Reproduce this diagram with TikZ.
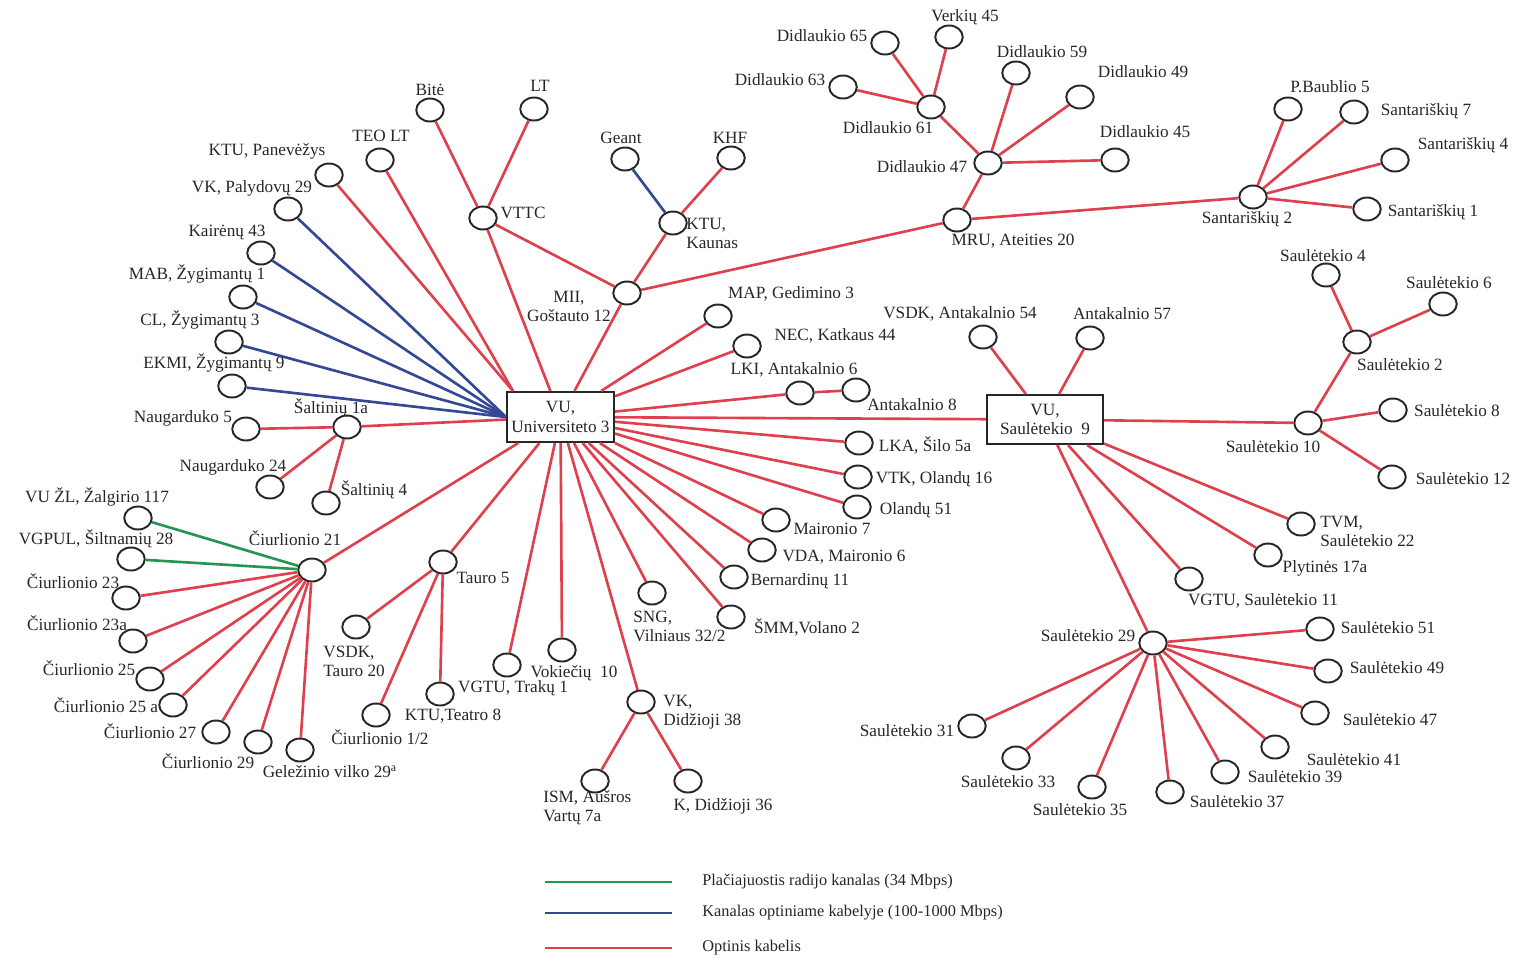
\documentclass[tikz,border=0pt]{standalone}
\usepackage{fontspec}
\setmainfont{Liberation Serif}
\usetikzlibrary{shapes.geometric}
\definecolor{cred}{RGB}{222,64,78}
\definecolor{cblue}{RGB}{52,72,150}
\definecolor{cgreen}{RGB}{36,150,84}
\newcommand\st[5][]{\node[site] (#2) at (#3) {}; \node[lbl,#1] (#2-l) at (#4) {#5};}
\begin{document}
\begin{tikzpicture}[x=0.02cm,y=-0.02cm,
  site/.style={ellipse,draw=black!85,line width=1.1pt,fill=white,minimum width=0.55cm,minimum height=0.46cm,inner sep=0pt},
  hub/.style={rectangle,draw=black!85,line width=1.2pt,fill=white,minimum width=2.14cm,minimum height=1cm,align=center,inner sep=1pt,font=\fontsize{9.8}{11}\selectfont,text=black!85},
  lbl/.style={font=\fontsize{9.8}{10.8}\selectfont,inner sep=0pt,text=black!85,align=center},
  lft/.style={anchor=west,align=left},
  fib/.style={cred,line width=1.5pt},
  opt/.style={cblue,line width=1.5pt},
  rad/.style={cgreen,line width=1.5pt}]
\useasboundingbox (0,0) rectangle (1517,961);

% hubs
\node[hub] (vuu) at (560.5,417) {VU,\\Universiteto 3};
\node[hub,minimum width=2.32cm,minimum height=0.98cm] (vus) at (1045,419.5) {VU,\\Saulėtekio\ \ 9};

% left fan
\st{teo}{380,160}{381,136}{TEO LT}
\st{ktup}{329,175}{267,151}{KTU, Panevėžys}
\st{vkp}{288,209}{252,188}{VK, Palydovų 29}
\st{kair}{261,253}{227,232}{Kairėnų 43}
\st{mab}{243,297}{197,274}{MAB, Žygimantų 1}
\st{cl}{229,342}{200,320}{CL, Žygimantų 3}
\st{ekmi}{232,386}{214,363}{EKMI, Žygimantų 9}
\st{naug5}{246,429}{183,418}{Naugarduko 5}
\st{salt1}{347,427}{331,408}{Šaltinių 1a}
\st{naug24}{270,487}{233,467}{Naugarduko 24}
\st{salt4}{326,503}{374,490}{Šaltinių 4}
\st{ciu21}{312,570}{295,538}{Čiurlionio 21}
\st{vuzl}{138,518}{97,497}{VU ŽL, Žalgirio 117}
\st{vgpul}{131,559}{96,539}{VGPUL, Šiltnamių 28}
\st{ciu23}{126,598}{73,581}{Čiurlionio 23}
\st{ciu23a}{133,641}{77,623}{Čiurlionio 23a}
\st{ciu25}{150,679}{89,668}{Čiurlionio 25}
\st{ciu25a}{173,705}{106,705}{Čiurlionio 25 a}
\st{ciu27}{216,732}{150,731}{Čiurlionio 27}
\st{ciu29}{258,742}{208,761}{Čiurlionio 29}
\st{gel}{300,750}{330,772}{Geležinio vilko 29\textsuperscript{a}}

% top
\st{bite}{430,110}{430,90}{Bitė}
\st{lt}{534,109}{540,86}{LT}
\st{vttc}{483,218}{523,213}{VTTC}
\st{geant}{625,159}{621,138}{Geant}
\st{khf}{731,158}{730,138}{KHF}
\st[lft]{ktuk}{673,223}{686,233}{KTU,\\Kaunas}
\st{mii}{627,293}{569,306}{MII,\\Goštauto 12}
\st{mru}{957,220}{1013,241}{MRU, Ateities 20}
\st{d47}{988,163}{922,167}{Didlaukio 47}
\st{d61}{931,107}{888,128}{Didlaukio 61}
\st{d65}{885,43}{822,36}{Didlaukio 65}
\st{v45}{949,37}{965,17}{Verkių 45}
\st{d63}{843,87}{780,80}{Didlaukio 63}
\st{d59}{1016,73}{1042,52}{Didlaukio 59}
\st{d49}{1080,97}{1143,72}{Didlaukio 49}
\st{d45}{1115,160}{1145,132}{Didlaukio 45}
\st{sant2}{1253,197}{1247,219}{Santariškių 2}
\st{pbau}{1288,109}{1330,87}{P.Baublio 5}
\st{sant7}{1354,112}{1426,111}{Santariškių 7}
\st{sant4}{1395,160}{1463,145}{Santariškių 4}
\st{sant1}{1367,209}{1433,212}{Santariškių 1}

% right of Universiteto
\st{map}{718,316}{791,294}{MAP, Gedimino 3}
\st{nec}{747,346}{835,336}{NEC, Katkaus 44}
\st{lki}{800,393}{794,370}{LKI, Antakalnio 6}
\st{ant8}{856,390}{912,405}{Antakalnio 8}
\st{lka}{859,443}{925,445}{LKA, Šilo 5a}
\st{vtk}{858,477}{934,479}{VTK, Olandų 16}
\st{ol51}{857,507}{916,510}{Olandų 51}
\st{mai7}{776,520}{832,529}{Maironio 7}
\st{vda}{762,550}{844,557}{VDA, Maironio 6}
\st{bern}{734,577}{800,581}{Bernardinų 11}
\st{smm}{731,617}{807,627}{ŠMM,Volano 2}
\st[lft]{sng}{652,593}{633,626}{SNG,\\Vilniaus 32/2}
\st[lft]{vkd}{641,702}{663,712}{VK,\\Didžioji 38}
\st[lft]{ism}{595,781}{543,808}{ISM, Aušros\\Vartų 7a}
\st{kd36}{688,781}{723,806}{K, Didžioji 36}
\st{vok}{562,650}{574,673}{Vokiečių\ \ 10}
\st{vgtut}{507,665}{513,688}{VGTU, Trakų 1}
\st{tauro5}{443,562}{483,578}{Tauro 5}
\st[lft]{vsdkt}{356,627}{323,661}{VSDK,\\Tauro 20}
\st{ciu12}{376,715}{380,737}{Čiurlionio 1/2}
\st{ktut}{440,694}{453,716}{KTU,Teatro 8}

% Sauletekio side
\st{vsdka}{983,337}{960,314}{VSDK, Antakalnio 54}
\st{ant57}{1090,338}{1122,314}{Antakalnio 57}
\st{s10}{1308,423}{1273,447}{Saulėtekio 10}
\st{s2}{1357,342}{1400,365}{Saulėtekio 2}
\st{s4}{1326,275}{1323,256}{Saulėtekio 4}
\st{s6}{1443,304}{1449,283}{Saulėtekio 6}
\st{s8}{1393,410}{1457,411}{Saulėtekio 8}
\st{s12}{1392,477}{1463,479}{Saulėtekio 12}
\st[lft]{tvm}{1301,524}{1320,531}{TVM,\\Saulėtekio 22}
\st{plyt}{1268,555}{1325,568}{Plytinės 17a}
\st{vgtus}{1189,579}{1263,601}{VGTU, Saulėtekio 11}
\st{s29}{1153,643}{1088,636}{Saulėtekio 29}
\st{s51}{1320,629}{1388,628}{Saulėtekio 51}
\st{s49}{1328,671}{1397,668}{Saulėtekio 49}
\st{s47}{1315,713}{1390,720}{Saulėtekio 47}
\st{s41}{1275,747}{1354,760}{Saulėtekio 41}
\st{s39}{1225,772}{1295,777}{Saulėtekio 39}
\st{s37}{1170,792}{1237,802}{Saulėtekio 37}
\st{s35}{1092,787}{1080,810}{Saulėtekio 35}
\st{s33}{1016,758}{1008,782}{Saulėtekio 33}
\st{s31}{972,726}{907,731}{Saulėtekio 31}

% connectors
\foreach \n in {vkp,kair,mab,cl,ekmi} \draw[opt] (\n) -- (vuu.west);
\draw[opt] (geant) -- (ktuk);
\foreach \n in {vuzl,vgpul} \draw[rad] (\n) -- (ciu21);
\foreach \n in {teo,ktup} \draw[fib] (\n) -- ([xshift=4pt]vuu.north west);
\foreach \n in {salt1,ciu21,vttc,mii,map,nec,lki,lka,vtk,ol51,mai7,vda,bern,smm,sng,vkd,vok,vgtut,tauro5}
  \draw[fib] (\n) -- (vuu);
\draw[fib] (vuu) -- (vus);
\foreach \n in {naug5,naug24,salt4} \draw[fib] (\n) -- (salt1);
\foreach \n in {ciu23,ciu23a,ciu25,ciu25a,ciu27,ciu29,gel} \draw[fib] (ciu21) -- (\n);
\draw[fib] (bite) -- (vttc);
\draw[fib] (lt) -- (vttc);
\draw[fib] (vttc) -- (mii);
\draw[fib] (khf) -- (ktuk);
\draw[fib] (ktuk) -- (mii);
\draw[fib] (mii) -- (mru);
\draw[fib] (mru) -- (d47);
\draw[fib] (mru) -- (sant2);
\foreach \n in {d61,d59,d49,d45} \draw[fib] (d47) -- (\n);
\foreach \n in {d65,v45,d63} \draw[fib] (d61) -- (\n);
\foreach \n in {pbau,sant7,sant4,sant1} \draw[fib] (sant2) -- (\n);
\draw[fib] (lki) -- (ant8);
\foreach \n in {vsdkt,ciu12,ktut} \draw[fib] (tauro5) -- (\n);
\foreach \n in {ism,kd36} \draw[fib] (vkd) -- (\n);
\foreach \n in {vsdka,ant57,s10,tvm,plyt,vgtus,s29} \draw[fib] (vus) -- (\n);
\foreach \n in {s2,s8,s12} \draw[fib] (s10) -- (\n);
\foreach \n in {s4,s6} \draw[fib] (s2) -- (\n);
\foreach \n in {s51,s49,s47,s41,s39,s37,s35,s33,s31} \draw[fib] (s29) -- (\n);

% legend
\coordinate (lga1) at (545,882); \coordinate (lga2) at (672,882);
\coordinate (lgb1) at (545,913); \coordinate (lgb2) at (672,913);
\coordinate (lgc1) at (545,948); \coordinate (lgc2) at (672,948);
\draw[rad] (lga1) -- (lga2);
\draw[opt] (lgb1) -- (lgb2);
\draw[fib] (lgc1) -- (lgc2);
\node[lbl,anchor=west,font=\fontsize{9.3}{10}\selectfont] (lga) at (702,882) {Plačiajuostis radijo kanalas (34 Mbps)};
\node[lbl,anchor=west,font=\fontsize{9.3}{10}\selectfont] (lgb) at (702,913) {Kanalas optiniame kabelyje (100-1000 Mbps)};
\node[lbl,anchor=west,font=\fontsize{9.3}{10}\selectfont] (lgc) at (702,948) {Optinis kabelis};
\end{tikzpicture}
\end{document}
